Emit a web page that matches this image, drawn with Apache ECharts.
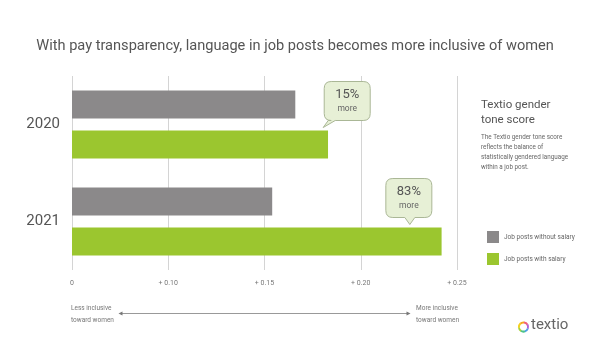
<!DOCTYPE html>
<html><head><meta charset="utf-8">
<script src="https://cdn.jsdelivr.net/npm/echarts@6/dist/echarts.min.js"></script>
<style>html,body{margin:0;padding:0;background:#fff}#c{width:590px;height:357px}</style>
</head><body><div id="c"></div>
<script>
const categories = ['2020', '2021'];
const withoutSalary = [0.166, 0.154];
const withSalary = [0.183, 0.242];
const tickValues = [0.05, 0.10, 0.15, 0.20, 0.25];
const tickLabels = ['0', '+ 0.10', '+ 0.15', '+ 0.20', '+ 0.25'];
const calloutText = [['15%', 'more'], ['83%', 'more']];
const calloutAt = [0.1805, 0.2255];
const calloutKind = ['left', 'center'];

const GRAY = '#8b898a', GREEN = '#9bc62f', TXT = '#555';
const FONT = 'Roboto, "Noto Sans", sans-serif';
const chart = echarts.init(document.getElementById('c'), null, {renderer: 'canvas'});

function bubblePath(kind, w, h, r, tx, ty) {
  let x0, x1, y0 = ty - 46, y1 = ty - 7, t0, t1;
  if (kind === 'left') { x0 = tx + 1; x1 = x0 + 46; t0 = tx + 5; t1 = tx + 12; }
  else { x0 = tx - 24; x1 = tx + 22; t0 = tx - 5; t1 = tx + 5; }
  return 'M' + (x0 + r) + ' ' + y0 + ' L' + (x1 - r) + ' ' + y0 +
    ' Q' + x1 + ' ' + y0 + ' ' + x1 + ' ' + (y0 + r) +
    ' L' + x1 + ' ' + (y1 - r) + ' Q' + x1 + ' ' + y1 + ' ' + (x1 - r) + ' ' + y1 +
    ' L' + t1 + ' ' + y1 + ' L' + tx + ' ' + ty + ' L' + t0 + ' ' + y1 +
    ' L' + (x0 + r) + ' ' + y1 + ' Q' + x0 + ' ' + y1 + ' ' + x0 + ' ' + (y1 - r) +
    ' L' + x0 + ' ' + (y0 + r) + ' Q' + x0 + ' ' + y0 + ' ' + (x0 + r) + ' ' + y0 + ' Z';
}

const calloutData = categories.map((c, i) => [calloutAt[i], i]);

const logoColors = ['#f5a623', '#f0607a', '#b061d6', '#4a9fe8', '#4cc28a', '#a6d13a', '#f5d020'];
const logoEls = logoColors.map((col, i) => ({
  type: 'sector', silent: true,
  shape: {cx: 523.5, cy: 327, r0: 3.6, r: 5.6,
    startAngle: -Math.PI * 0.75 + i * 2 * Math.PI / logoColors.length,
    endAngle: -Math.PI * 0.75 + (i + 1) * 2 * Math.PI / logoColors.length + 0.05},
  style: {fill: col}
}));

chart.setOption({
  backgroundColor: '#fff',
  animation: false,
  title: {
    text: 'With pay transparency, language in job posts becomes more inclusive of women',
    left: 'center', top: 34,
    textStyle: {fontFamily: FONT, fontSize: 14.6, fontWeight: 'normal', color: TXT}
  },
  legend: {
    orient: 'vertical', left: 482, top: 226, itemWidth: 12, itemHeight: 12, itemGap: 10,
    icon: 'rect', selectedMode: false,
    data: ['Job posts without salary', 'Job posts with salary'],
    textStyle: {fontFamily: FONT, fontSize: 6.5, color: '#666', padding: [0, 0, 0, 0]}
  },
  grid: {left: 72, width: 385, top: 76, height: 194, containLabel: false},
  xAxis: {
    type: 'value', min: 0.05, max: 0.25, interval: 0.05,
    axisLine: {show: false}, axisTick: {show: false},
    splitLine: {lineStyle: {color: '#d4d4d4', width: 1}},
    axisLabel: {
      margin: 10, fontFamily: FONT, fontSize: 7, color: '#777',
      formatter: v => { const k = tickValues.findIndex(t => Math.abs(t - v) < 1e-6); return k >= 0 ? tickLabels[k] : ''; }
    }
  },
  yAxis: {
    type: 'category', data: categories, inverse: true,
    axisLine: {show: false}, axisTick: {show: false},
    axisLabel: {margin: 12, fontFamily: FONT, fontSize: 15, color: TXT}
  },
  series: [
    {name: 'Job posts without salary', type: 'bar', data: withoutSalary, barWidth: 28, barGap: '43%',
     itemStyle: {color: GRAY}, clip: true},
    {name: 'Job posts with salary', type: 'bar', data: withSalary, barWidth: 28, barGap: '43%',
     itemStyle: {color: GREEN}, clip: true},
    {type: 'custom', data: calloutData, clip: false, z: 5,
     encode: {x: 0, y: 1},
     renderItem: (params, api) => {
       const i = params.dataIndex;
       const p = api.coord([api.value(0), api.value(1)]);
       const tx = p[0], ty = p[1] + 3;
       const cx = calloutKind[i] === 'left' ? tx + 24 : tx - 1;
       return {type: 'group', children: [
         {type: 'path', shape: {pathData: bubblePath(calloutKind[i], 46, 39, 7, tx, ty)},
          style: {fill: '#e7f0d6', stroke: '#aab796', lineWidth: 1}},
         {type: 'text', style: {text: calloutText[i][0], x: cx, y: ty - 33, align: 'center', verticalAlign: 'middle',
           fontFamily: FONT, fontSize: 13, fill: TXT}},
         {type: 'text', style: {text: calloutText[i][1], x: cx, y: ty - 19, align: 'center', verticalAlign: 'middle',
           fontFamily: FONT, fontSize: 8.5, fill: '#666'}}
       ]};
     }}
  ],
  graphic: [
    {type: 'text', left: 481, top: 98, silent: true,
     style: {text: 'Textio gender\ntone score', fontFamily: FONT, fontSize: 11.5, lineHeight: 15, fill: TXT}},
    {type: 'text', left: 481, top: 133, silent: true,
     style: {text: 'The Textio gender tone score\nreflects the balance of\nstatistically gendered language\nwithin a job post.',
       fontFamily: FONT, fontSize: 6.3, lineHeight: 9.7, fill: '#666'}},
    {type: 'text', left: 71, top: 303, silent: true,
     style: {text: 'Less inclusive\ntoward women', fontFamily: FONT, fontSize: 6.5, lineHeight: 11.5, fill: '#777'}},
    {type: 'text', right: 131, top: 303, silent: true,
     style: {text: 'More inclusive\ntoward women', align: 'right', fontFamily: FONT, fontSize: 6.5, lineHeight: 11.5, fill: '#777'}},
    {type: 'line', silent: true, shape: {x1: 120, y1: 313.5, x2: 409, y2: 313.5}, style: {stroke: '#999', lineWidth: 1}},
    {type: 'polygon', silent: true, shape: {points: [[118.5, 313.5], [122.5, 311.5], [122.5, 315.5]]}, style: {fill: '#777'}},
    {type: 'polygon', silent: true, shape: {points: [[410.5, 313.5], [406.5, 311.5], [406.5, 315.5]]}, style: {fill: '#777'}},
    ...logoEls,
    {type: 'text', left: 531, top: 318, silent: true,
     style: {text: 'textio', fontFamily: FONT, fontSize: 15, fill: '#666'}}
  ]
});
</script></body></html>
